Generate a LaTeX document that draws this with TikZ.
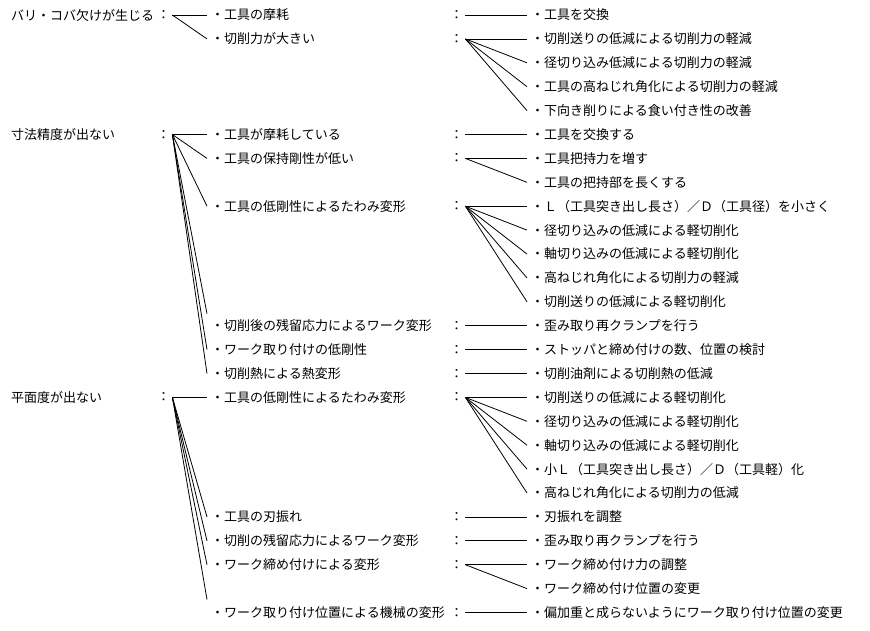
\documentclass[tikz,border=0pt]{standalone}
\usepackage{fontspec}
\setmainfont{Noto Sans CJK JP}
\usepackage{tikz}
\usetikzlibrary{positioning}

\begin{document}
\begin{tikzpicture}[
    x=1pt, y=-23.9pt,
    every node/.style={font=\fontsize{13}{13}\selectfont},
    grp/.style={anchor=west, inner sep=0pt},
    sep/.style={anchor=west, inner xsep=2pt, inner ysep=0pt},
    item/.style={anchor=west, inner xsep=4pt, inner ysep=0pt},
    link/.style={line width=0.8pt}
]
\useasboundingbox (0,-0.628) rectangle (870,25.732);

% Burrs / chipping
\node[grp] (g1) at (11,0) {バリ・コバ欠けが生じる};
\node[sep] (q0) at (155,0) {：};
\node[item] (p0) at (207,0) {・工具の摩耗};
\node[item] (p1) at (207,1) {・切削力が大きい};
\draw[link] (q0.east) -- (p0.west);
\draw[link] (q0.east) -- (p1.west);

\node[sep] (k0) at (448,0) {：};
\node[sep] (k1) at (448,1) {：};
\node[item] (r0) at (527,0) {・工具を交換};
\node[item] (r1) at (527,1) {・切削送りの低減による切削力の軽減};
\node[item] (r2) at (527,2) {・径切り込み低減による切削力の軽減};
\node[item] (r3) at (527,3) {・工具の高ねじれ角化による切削力の軽減};
\node[item] (r4) at (527,4) {・下向き削りによる食い付き性の改善};
\draw[link] (k0.east) -- (r0.west);
\foreach \r in {1,...,4} \draw[link] (k1.east) -- (r\r.west);

% Dimensional accuracy
\node[grp] (g2) at (11,5) {寸法精度が出ない};
\node[sep] (q5) at (155,5) {：};
\node[item] (p5) at (207,5) {・工具が摩耗している};
\node[item] (p6) at (207,6) {・工具の保持剛性が低い};
\node[item] (p8) at (207,8) {・工具の低剛性によるたわみ変形};
\node[item] (p13) at (207,13) {・切削後の残留応力によるワーク変形};
\node[item] (p14) at (207,14) {・ワーク取り付けの低剛性};
\node[item] (p15) at (207,15) {・切削熱による熱変形};
\foreach \p in {5,6,8,14,15} \draw[link] (q5.east) -- (p\p.west);
\draw[link] (q5.east) -- ([yshift=12pt]p13.west);

\foreach \k in {5,6,8,13,14,15} \node[sep] (k\k) at (448,\k) {：};
\node[item] (r5) at (527,5) {・工具を交換する};
\node[item] (r6) at (527,6) {・工具把持力を増す};
\node[item] (r7) at (527,7) {・工具の把持部を長くする};
\node[item] (r8) at (527,8) {・Ｌ（工具突き出し長さ）／Ｄ（工具径）を小さく};
\node[item] (r9) at (527,9) {・径切り込みの低減による軽切削化};
\node[item] (r10) at (527,10) {・軸切り込みの低減による軽切削化};
\node[item] (r11) at (527,11) {・高ねじれ角化による切削力の軽減};
\node[item] (r12) at (527,12) {・切削送りの低減による軽切削化};
\node[item] (r13) at (527,13) {・歪み取り再クランプを行う};
\node[item] (r14) at (527,14) {・ストッパと締め付けの数、位置の検討};
\node[item] (r15) at (527,15) {・切削油剤による切削熱の低減};
\draw[link] (k5.east) -- (r5.west);
\draw[link] (k6.east) -- (r6.west);
\draw[link] (k6.east) -- (r7.west);
\foreach \r in {8,...,12} \draw[link] (k8.east) -- (r\r.west);
\draw[link] (k13.east) -- (r13.west);
\draw[link] (k14.east) -- (r14.west);
\draw[link] (k15.east) -- (r15.west);

% Flatness
\node[grp] (g3) at (11,16) {平面度が出ない};
\node[sep] (q16) at (155,16) {：};
\node[item] (p16) at (207,16) {・工具の低剛性によるたわみ変形};
\node[item] (p21) at (207,21) {・工具の刃振れ};
\node[item] (p22) at (207,22) {・切削の残留応力によるワーク変形};
\node[item] (p23) at (207,23) {・ワーク締め付けによる変形};
\node[item] (p25) at (207,25) {・ワーク取り付け位置による機械の変形};
\foreach \p in {16,21,22,23} \draw[link] (q16.east) -- (p\p.west);
\draw[link] (q16.east) -- ([yshift=13pt]p25.west);

\foreach \k in {16,21,22,23,25} \node[sep] (k\k) at (448,\k) {：};
\node[item] (r16) at (527,16) {・切削送りの低減による軽切削化};
\node[item] (r17) at (527,17) {・径切り込みの低減による軽切削化};
\node[item] (r18) at (527,18) {・軸切り込みの低減による軽切削化};
\node[item] (r19) at (527,19) {・小Ｌ（工具突き出し長さ）／Ｄ（工具軽）化};
\node[item] (r20) at (527,20) {・高ねじれ角化による切削力の低減};
\node[item] (r21) at (527,21) {・刃振れを調整};
\node[item] (r22) at (527,22) {・歪み取り再クランプを行う};
\node[item] (r23) at (527,23) {・ワーク締め付け力の調整};
\node[item] (r24) at (527,24) {・ワーク締め付け位置の変更};
\node[item] (r25) at (527,25) {・偏加重と成らないようにワーク取り付け位置の変更};
\foreach \r in {16,...,20} \draw[link] (k16.east) -- (r\r.west);
\draw[link] (k21.east) -- (r21.west);
\draw[link] (k22.east) -- (r22.west);
\draw[link] (k23.east) -- (r23.west);
\draw[link] (k23.east) -- (r24.west);
\draw[link] (k25.east) -- (r25.west);

\end{tikzpicture}
\end{document}
